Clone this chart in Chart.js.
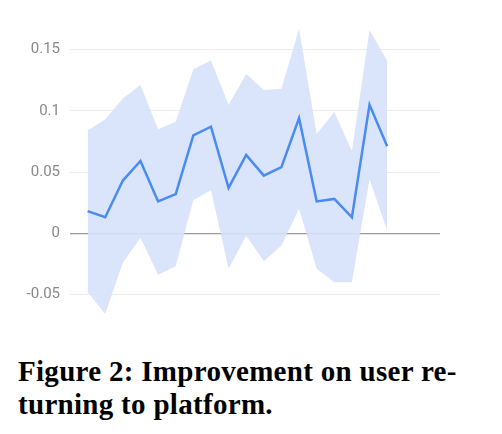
<!DOCTYPE html>
<html>
<head>
<meta charset="utf-8">
<script src="https://cdn.jsdelivr.net/npm/chart.js@4"></script>
<style>
  body { margin: 0; background: #fff; width: 502px; height: 434px; position: relative; overflow: hidden; }
  #wrap { position: absolute; left: 0; top: 0; width: 502px; height: 344px; }
  #caption { position: absolute; left: 18px; top: 355px; width: 480px; font-family: "Liberation Serif", serif; font-weight: bold; font-size: 29px; letter-spacing: 0.3px; line-height: 33px; color: #000; }
</style>
</head>
<body>
<div id="wrap"><canvas id="chart"></canvas></div>
<div id="caption">Figure 2: Improvement on user re-<br>turning to platform.</div>
<script>
const steps = [0, 1, 2, 3, 4, 5, 6, 7, 8, 9, 10, 11, 12, 13, 14, 15, 16, 17];
const meanValues = [0.018, 0.013, 0.043, 0.059, 0.026, 0.032, 0.080, 0.087, 0.037, 0.064, 0.047, 0.054, 0.094, 0.026, 0.028, 0.013, 0.105, 0.071];
const upperValues = [0.084, 0.093, 0.110, 0.121, 0.085, 0.091, 0.134, 0.141, 0.105, 0.130, 0.117, 0.118, 0.167, 0.081, 0.099, 0.067, 0.166, 0.141];
const lowerValues = [-0.048, -0.066, -0.024, -0.004, -0.034, -0.027, 0.027, 0.035, -0.029, -0.002, -0.023, -0.010, 0.020, -0.029, -0.040, -0.040, 0.044, 0.002];
const yTicks = [-0.05, 0, 0.05, 0.1, 0.15];
const yTickLabels = ["-0.05", "0", "0.05", "0.1", "0.15"];

const pts = (vals) => steps.map((s, i) => ({ x: s, y: vals[i] }));

new Chart(document.getElementById("chart"), {
  type: "line",
  data: {
    datasets: [
      { data: pts(upperValues), borderWidth: 0, pointRadius: 0, fill: "+1", backgroundColor: "rgba(214,226,252,0.9)" },
      { data: pts(lowerValues), borderWidth: 0, pointRadius: 0, fill: false },
      { data: pts(meanValues), borderColor: "#4a8bf0", borderWidth: 2.5, pointRadius: 0, fill: false },
    ],
  },
  options: {
    responsive: true,
    maintainAspectRatio: false,
    animation: false,
    layout: { padding: { top: 0, bottom: 13, right: 62, left: 0 } },
    plugins: { legend: { display: false }, tooltip: { enabled: false }, filler: { drawTime: "beforeDatasetsDraw" } },
    scales: {
      x: { type: "linear", min: -1, max: 20, display: false },
      y: {
        min: -0.075,
        max: 0.175,
        afterFit: (s) => { s.width = 70; },
        afterBuildTicks: (s) => { s.ticks = yTicks.map((v) => ({ value: v })); },
        border: { display: false },
        grid: {
          drawTicks: false,
          color: (c) => (c.tick && c.tick.value === 0 ? "#999" : "#ececec"),
          lineWidth: (c) => (c.tick && c.tick.value === 0 ? 1.2 : 1),
        },
        ticks: {
          color: "#888",
          padding: 10,
          font: { family: "Roboto", size: 15 },
          callback: (v) => yTickLabels[yTicks.indexOf(v)] ?? "",
        },
      },
    },
  },
});
</script>
</body>
</html>
